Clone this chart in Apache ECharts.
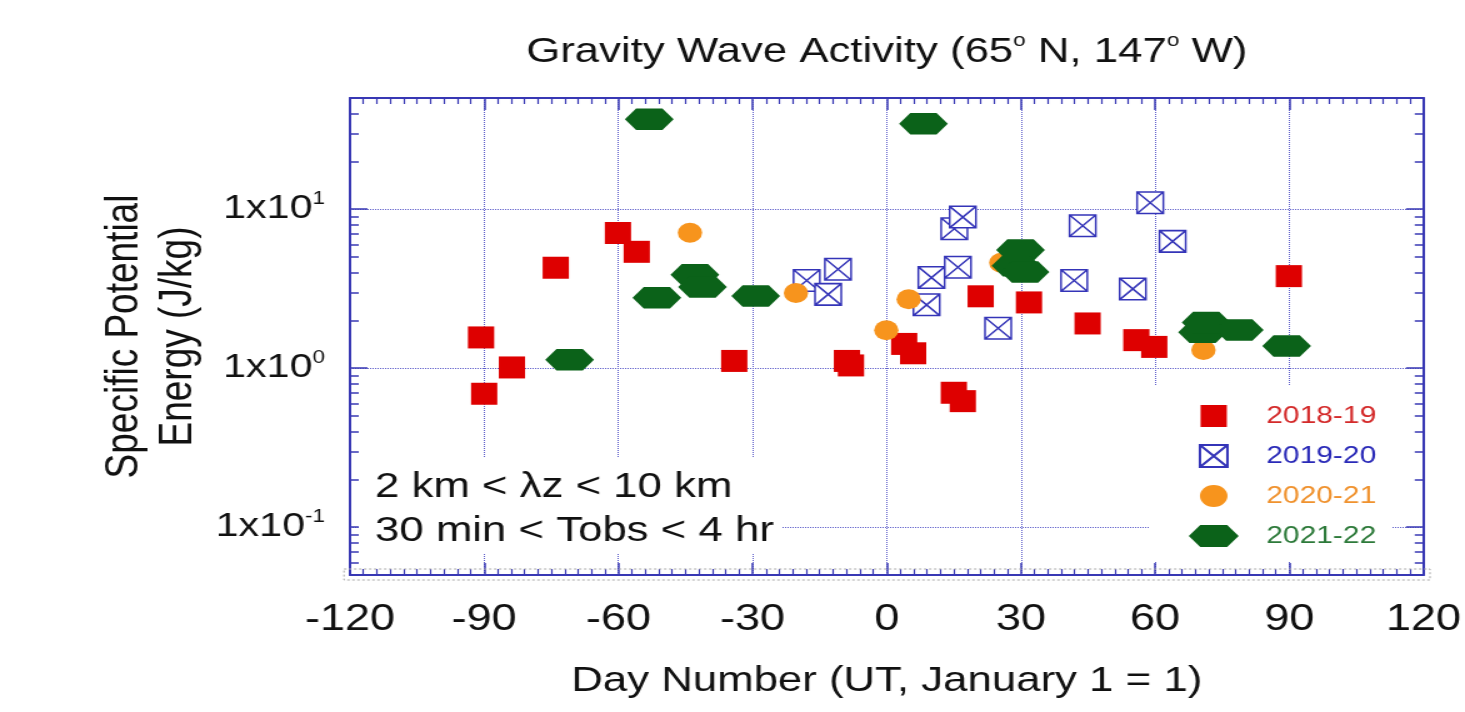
<!DOCTYPE html>
<html>
<head>
<meta charset="utf-8">
<script src="https://cdn.jsdelivr.net/npm/echarts@6/dist/echarts.min.js"></script>
<style>
  html, body { margin: 0; padding: 0; background: #fff; overflow: hidden; }
  #wrap { width: 1465px; height: 712px; overflow: hidden; }
  /* the figure is laid out 1172 px wide and widened 1.25x, like the original slide */
  #chart { width: 1172px; height: 712px; transform: scaleX(1.25); transform-origin: 0 0; }
</style>
</head>
<body>
<div id="wrap"><div id="chart"></div></div>
<script>
// ---- axis ranges and ticks ----
const dayMin = -120, dayMax = 120, dayStep = 30;
const speMin = 0.05, speMax = 50;
const speMajorTicks = [0.1, 1, 10];
const speMinorTicks = [0.06, 0.07, 0.08, 0.09,
  0.2, 0.3, 0.4, 0.5, 0.6, 0.7, 0.8, 0.9,
  2, 3, 4, 5, 6, 7, 8, 9,
  20, 30, 40];

// ---- winter seasons ----
const seasonNames = ['2018-19', '2019-20', '2020-21', '2021-22'];

// 2018-19 (day number, specific potential energy J/kg)
const days1819 = [-90.7, -90.0, -83.8, -74.0, -60.1, -55.9, -34.1, -8.9, -8.0, 3.9, 5.9, 15.0, 17.0, 21.0, 31.8, 44.9, 55.8, 59.8, 89.9];
const spe1819  = [1.56, 0.69, 1.01, 4.28, 7.08, 5.39, 1.11, 1.11, 1.04, 1.42, 1.24, 0.70, 0.62, 2.83, 2.59, 1.91, 1.50, 1.36, 3.79];

// 2019-20
const days1920 = [-17.9, -13.1, -10.9, 8.9, 10.0, 15.1, 15.9, 17.0, 24.9, 41.9, 43.8, 55.0, 58.9, 63.9];
const spe1920  = [3.56, 2.91, 4.19, 2.50, 3.71, 7.53, 4.31, 8.91, 1.78, 3.56, 7.87, 3.15, 10.97, 6.27];

// 2020-21
const days2021 = [-44.0, -20.3, -0.1, 4.9, 25.6, 70.8];
const spe2021  = [7.10, 2.97, 1.73, 2.71, 4.60, 1.30];

// 2021-22
const days2122 = [-70.9, -53.1, -51.4, -42.9, -41.2, -29.3, 8.2, 29.9, 28.9, 30.9, 70.6, 71.4, 78.8, 89.4];
const spe2122  = [1.13, 36.7, 2.77, 3.86, 3.24, 2.84, 34.4, 5.53, 4.40, 4.02, 1.68, 1.94, 1.74, 1.38];

// ---- styling ----
const FONT = '"Liberation Sans", Arial, Helvetica, sans-serif';
const axisBlue = '#3838b4';
const gridBlue = '#5c5cca';
const ink = '#111111';

const seasonColors = ['#de0000', '#3434b8', '#f7941d', '#0b6219'];
const legendTextColors = ['#d42a2a', '#2a2ab8', '#f0922e', '#2d7a3a'];

const squarePath = 'path://M0,0H21V22H0Z';
const crossBoxPath = 'path://M0,0H21V21H0Z M0,0L21,21 M21,0L0,21';
const hexPath = 'path://M0,10.75L9,0L30,0L39,10.75L30,21.5L9,21.5Z';

function pairs(xs, ys) { return xs.map((x, i) => [x, ys[i]]); }

const chart = echarts.init(document.getElementById('chart'));

function xAxisBase(pos, showLabels) {
  return {
    type: 'value', position: pos, min: dayMin, max: dayMax, interval: dayStep,
    axisLine: { show: true, onZero: false, lineStyle: { color: axisBlue, width: 2 } },
    axisTick: { show: true, inside: true, length: 12, lineStyle: { color: axisBlue, width: 1.5 } },
    minorTick: { show: true, splitNumber: 10, length: 6, lineStyle: { color: axisBlue, width: 1.2 } },
    axisLabel: showLabels ? { show: true, margin: 27, fontSize: 36, fontFamily: FONT, color: ink }
                          : { show: false },
    splitLine: showLabels ? { show: true, lineStyle: { color: gridBlue, width: 1, type: [1, 1] } }
                          : { show: false },
    nameMoveOverlap: false
  };
}

function yAxisBase(pos, ticks, len, opts) {
  return Object.assign({
    type: 'log', logBase: 10, position: pos, min: speMin, max: speMax,
    axisLine: { show: false, onZero: false, lineStyle: { color: axisBlue, width: 2 } },
    axisTick: { show: true, inside: true, length: len, customValues: ticks,
                lineStyle: { color: axisBlue, width: 1.5 } },
    axisLabel: { show: false },
    splitLine: { show: false },
    nameMoveOverlap: false
  }, opts || {});
}

const yLeftMain = yAxisBase('left', speMajorTicks, 14, {
  axisLine: { show: true, onZero: false, lineStyle: { color: axisBlue, width: 2 } },
  axisLabel: {
    show: true, margin: 20, customValues: speMajorTicks, fontFamily: FONT, color: ink,
    formatter: v => '{m|1x10}{e|' + Math.round(Math.log10(v)) + '}',
    rich: {
      m: { fontSize: 33, lineHeight: 38, fontFamily: FONT, color: ink },
      e: { fontSize: 18, lineHeight: 30, verticalAlign: 'top', fontFamily: FONT, color: ink }
    }
  },
  splitLine: { show: true, lineStyle: { color: gridBlue, width: 1, type: [1, 1] } },
  name: 'Specific Potential\nEnergy (J/kg)',
  nameLocation: 'middle', nameRotate: 90, nameGap: 116,
  nameTextStyle: { fontSize: 37, lineHeight: 43, fontFamily: FONT, color: ink }
});

const option = {
  backgroundColor: '#ffffff',
  animation: false,
  grid: { left: 280, right: 33.2, top: 98, bottom: 137, outerBoundsMode: 'none' },
  xAxis: [
    Object.assign(xAxisBase('bottom', true), {
      name: 'Day Number (UT, January 1 = 1)', nameLocation: 'middle', nameGap: 86,
      nameTextStyle: { fontSize: 35, lineHeight: 40, fontFamily: FONT, color: ink }
    }),
    xAxisBase('top', false)
  ],
  yAxis: [
    yLeftMain,
    yAxisBase('left', speMinorTicks, 7),
    yAxisBase('right', speMajorTicks, 14, {
      axisLine: { show: true, onZero: false, lineStyle: { color: axisBlue, width: 2 } }
    }),
    yAxisBase('right', speMinorTicks, 7)
  ],
  legend: {
    orient: 'vertical', left: 920, top: 386,
    padding: [18, 12, 14, 31],
    backgroundColor: '#ffffff',
    itemWidth: 74, itemHeight: 22, itemGap: 16,
    textStyle: { fontSize: 24, lineHeight: 24, fontFamily: FONT },
    selectedMode: false,
    data: seasonNames.map((n, i) => ({ name: n, textStyle: { color: legendTextColors[i] } }))
  },
  graphic: [
    {
      type: 'text', x: 709.4, y: 52, z: 10,
      style: {
        text: 'Gravity Wave Activity (65{s|o} N, 147{s|o} W)',
        font: '35px ' + FONT, fill: ink,
        align: 'center', verticalAlign: 'middle', lineHeight: 40,
        rich: { s: { fontSize: 18, lineHeight: 34, verticalAlign: 'top', fill: ink, fontFamily: FONT } }
      }
    },
    {
      type: 'text', x: 287, y: 458, z: 10,
      style: {
        text: '2 km < \u03bbz < 10 km\n30 min < Tobs < 4 hr',
        font: '35px ' + FONT, fill: ink, lineHeight: 44,
        backgroundColor: '#ffffff', padding: [7, 6, 0, 13]
      }
    },
    {
      type: 'rect', z: 1, silent: true,
      shape: { x: 275.2, y: 569, width: 868.8, height: 11 },
      style: { fill: 'none', stroke: '#a8a8a8', lineWidth: 1, lineDash: [2, 2] }
    }
  ],
  series: [
    {
      name: seasonNames[0], type: 'scatter', xAxisIndex: 0, yAxisIndex: 0,
      symbol: squarePath, symbolSize: [21, 22],
      itemStyle: { color: seasonColors[0], opacity: 1 },
      data: pairs(days1819, spe1819)
    },
    {
      name: seasonNames[1], type: 'scatter', xAxisIndex: 0, yAxisIndex: 0,
      symbol: crossBoxPath, symbolSize: [21, 21.5],
      itemStyle: { color: '#ffffff', borderColor: seasonColors[1], borderWidth: 1.5, opacity: 1 },
      data: pairs(days1920, spe1920)
    },
    {
      name: seasonNames[2], type: 'scatter', xAxisIndex: 0, yAxisIndex: 0,
      symbol: 'circle', symbolSize: [19.5, 20],
      itemStyle: { color: seasonColors[2], opacity: 1 },
      data: pairs(days2021, spe2021)
    },
    {
      name: seasonNames[3], type: 'scatter', xAxisIndex: 0, yAxisIndex: 0,
      symbol: hexPath, symbolSize: [39, 21.5],
      itemStyle: { color: seasonColors[3], opacity: 1 },
      data: pairs(days2122, spe2122)
    }
  ]
};

chart.setOption(option);
</script>
</body>
</html>
